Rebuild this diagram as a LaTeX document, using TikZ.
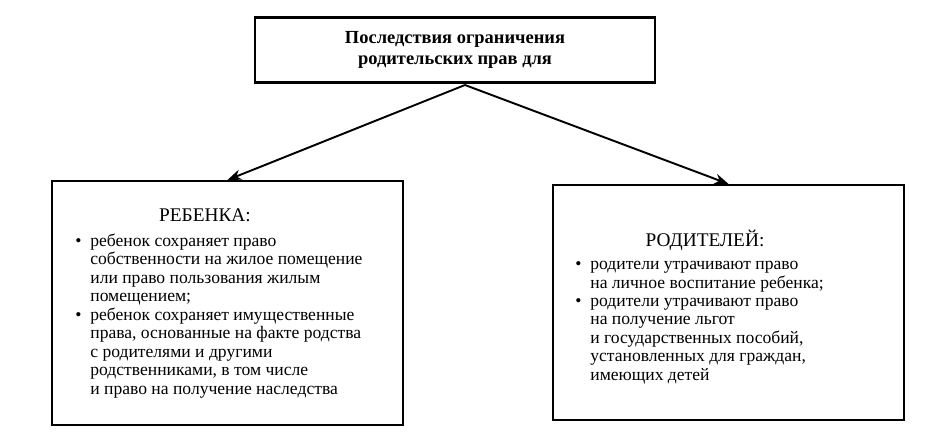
\documentclass[tikz,border=0pt]{standalone}
\usepackage{fontspec}
\setmainfont{Liberation Serif}
\usetikzlibrary{arrows.meta, positioning}
\tikzset{
  panel/.style={draw, line width=1.2pt, minimum width=7.02cm},
  itemtext/.style={font=\fontsize{10}{10.5}\selectfont, align=left, anchor=north west, inner sep=0pt},
  link/.style={-{Stealth[length=8pt,width=6pt]}, line width=1.1pt}
}
\newcommand{\bul}{\makebox[0.3cm][l]{\textbullet}}
\newcommand{\ind}{\hspace*{0.3cm}}
\begin{document}
\begin{tikzpicture}
\useasboundingbox (0,0) rectangle (18.8,8.82);
% top box
\node[draw, line width=1.2pt, minimum width=8cm, minimum height=1.3cm, align=center,
  font=\fontsize{10.5}{12}\selectfont\bfseries] (top) at (9.1,7.82)
  {Последствия ограничения\\родительских прав для};
\coordinate (src) at (9.3,7.12);
% left box
\node[panel, minimum height=4.88cm] (child) at (4.55,2.76) {};
\node[font=\fontsize{11}{12}\selectfont] (childhead) at (4.1,4.52) {РЕБЕНКА:};
\node[itemtext] (childlist) at (1.5,4.15)
  {\bul ребенок сохраняет право\\
   \ind собственности на жилое помещение\\
   \ind или право пользования жилым\\
   \ind помещением;\\
   \bul ребенок сохраняет имущественные\\
   \ind права, основанные на факте родства\\
   \ind с родителями и другими\\
   \ind родственниками, в том числе\\
   \ind и право на получение наследства};
% right box
\node[panel, minimum height=4.7cm] (parent) at (14.57,2.77) {};
\node[font=\fontsize{11}{12}\selectfont] (parenthead) at (14.1,4.02) {РОДИТЕЛЕЙ:};
\node[itemtext] (parentlist) at (11.5,3.6)
  {\bul родители утрачивают право\\
   \ind на личное воспитание ребенка;\\
   \bul родители утрачивают право\\
   \ind на получение льгот\\
   \ind и государственных пособий,\\
   \ind установленных для граждан,\\
   \ind имеющих детей};
% arrows
\draw[link] (src) -- (child.north);
\draw[link] (src) -- (parent.north);
\end{tikzpicture}
\end{document}
